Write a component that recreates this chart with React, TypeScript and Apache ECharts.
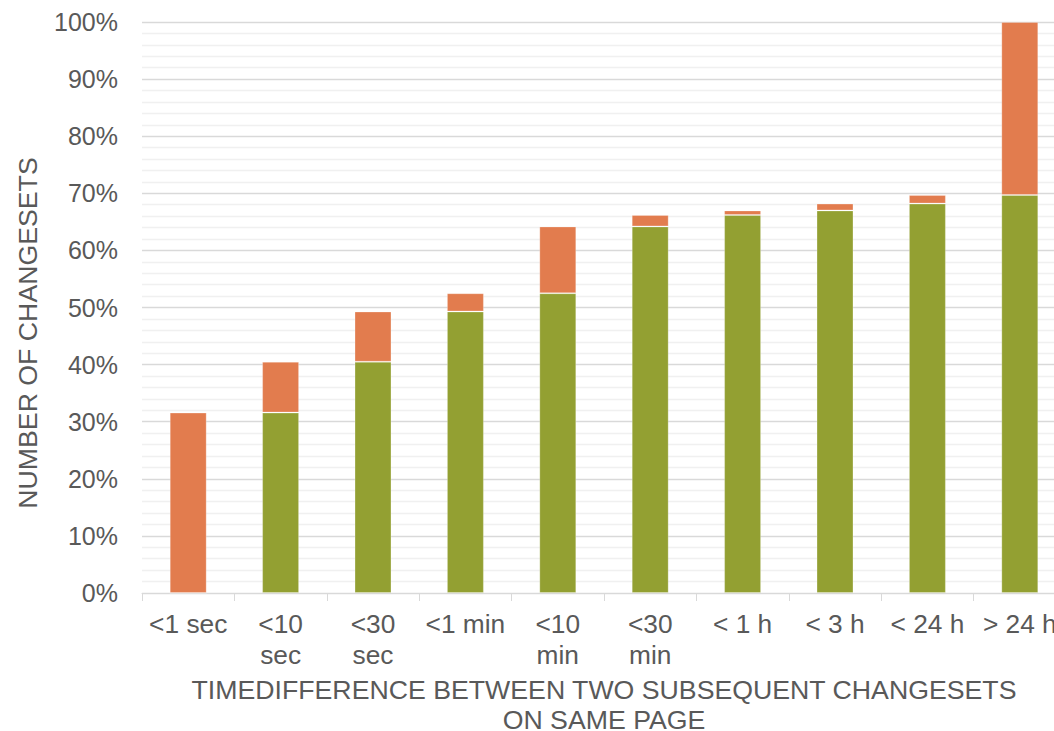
import React, { useEffect, useRef } from "react";
import * as echarts from "echarts";

const categories = ["<1 sec", "<10\nsec", "<30\nsec", "<1 min", "<10\nmin", "<30\nmin", "< 1 h", "< 3 h", "< 24 h", "> 24 h"];
const baseValues = [0, 31.6, 40.5, 49.3, 52.5, 64.2, 66.2, 67.0, 68.2, 69.7];
const incrementValues = [31.6, 8.9, 8.8, 3.2, 11.7, 2.0, 0.8, 1.2, 1.5, 30.3];
const xTitle = "TIMEDIFFERENCE BETWEEN TWO SUBSEQUENT CHANGESETS\nON SAME PAGE";
const yTitle = "NUMBER OF CHANGESETS";

const FONT = '"Liberation Sans", Arial, sans-serif';
const TEXT = "#595959";

export default function App() {
  const ref = useRef<HTMLDivElement>(null);
  useEffect(() => {
    if (!ref.current) return;
    const chart = echarts.init(ref.current, undefined, { renderer: "svg" });
    chart.setOption({
      animation: false,
      backgroundColor: "#ffffff",
      grid: {
        left: 142,
        right: -12,
        top: 22,
        bottom: 138,
        containLabel: false,
        outerBoundsMode: "none",
      },
      xAxis: {
        type: "category",
        data: categories,
        axisLine: { lineStyle: { color: "#d9d9d9", width: 1 } },
        axisTick: { show: true, length: 8, lineStyle: { color: "#d9d9d9" } },
        axisLabel: {
          color: TEXT,
          fontFamily: FONT,
          fontSize: 26.3,
          lineHeight: 31,
          margin: 15,
          interval: 0,
        },
        name: xTitle,
        nameLocation: "middle",
        nameGap: 77,
        nameTextStyle: { color: TEXT, fontFamily: FONT, fontSize: 26.7, lineHeight: 30 },
      },
      yAxis: {
        type: "value",
        min: 0,
        max: 100,
        interval: 10,
        axisLine: { show: false },
        axisTick: { show: false },
        axisLabel: {
          color: TEXT,
          fontFamily: FONT,
          fontSize: 25,
          margin: 24,
          formatter: "{value}%",
        },
        splitLine: { show: true, lineStyle: { color: "#d9d9d9", width: 1.3 } },
        minorTick: { show: false, splitNumber: 5 },
        minorSplitLine: { show: true, lineStyle: { color: "#f0f0f0", width: 1.3 } },
      },
      series: [
        {
          type: "bar",
          stack: "total",
          data: baseValues,
          barCategoryGap: "60%",
          itemStyle: { color: "#93a032", borderColor: "rgba(255,255,255,0.25)", borderWidth: 1 },
        },
        {
          type: "bar",
          stack: "total",
          data: incrementValues,
          barCategoryGap: "60%",
          itemStyle: { color: "#e27c4e", borderColor: "rgba(255,255,255,0.25)", borderWidth: 1 },
        },
      ],
      graphic: [
        {
          type: "text",
          x: 28,
          y: 333,
          rotation: Math.PI / 2,
          style: {
            text: yTitle,
            fill: TEXT,
            font: `26.7px ${FONT}`,
            textAlign: "center",
            textVerticalAlign: "middle",
          },
        },
      ],
    });
    return () => chart.dispose();
  }, []);
  return (
    <div
      ref={ref}
      style={{ position: "absolute", left: 0, top: 0, width: 1054, height: 731 }}
    />
  );
}
